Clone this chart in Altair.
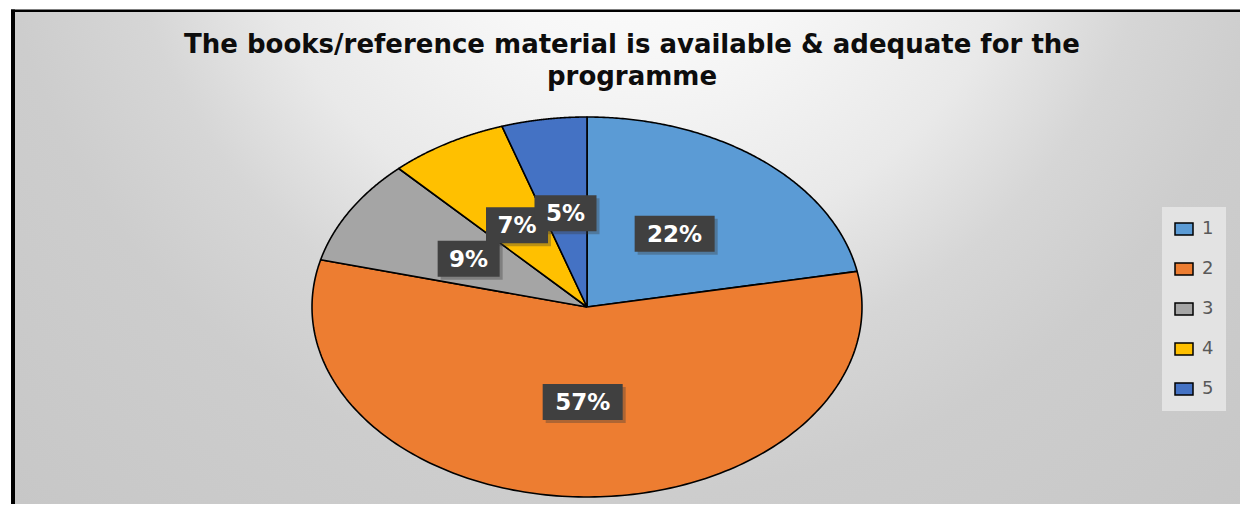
import altair as alt
import pandas as pd

# ---- data ----
categories = ["1", "2", "3", "4", "5"]
shares = [22, 57, 9, 7, 5]
pct_labels = ["22%", "57%", "9%", "7%", "5%"]
colors = ["#5b9bd5", "#ed7d31", "#a5a5a5", "#ffc000", "#4472c4"]
title_lines = ["The books/reference material is available & adequate for the", "programme"]

N = 180  # points along each slice's arc

df = pd.DataFrame({"cat": categories, "share": shares, "label": pct_labels,
                   "idx": list(range(len(categories)))})
one = pd.DataFrame({"k": [0]})

W, H = 1232, 496
CX, CY, RX, RY = 579, 299, 275, 190
FONT = "DejaVu Sans"

xscale = alt.Scale(domain=[-1, 1], range=[CX - RX, CX + RX], nice=False, zero=False)
yscale = alt.Scale(domain=[-1, 1], range=[CY + RY, CY - RY], nice=False, zero=False)

# ---- background and frame ----
grad = alt.Gradient(
    gradient="radial",
    x1=0.51, y1=0.0, r1=0.0,
    x2=0.51, y2=0.0, r2=0.85,
    stops=[
        alt.GradientStop(color="#ffffff", offset=0.0),
        alt.GradientStop(color="#f7f7f7", offset=0.2),
        alt.GradientStop(color="#e9e9e9", offset=0.38),
        alt.GradientStop(color="#d6d6d6", offset=0.5),
        alt.GradientStop(color="#cdcdcd", offset=0.62),
        alt.GradientStop(color="#c4c4c4", offset=1.0),
    ],
)
bg = alt.Chart(one).mark_rect(fill=grad, strokeWidth=0).encode(
    x=alt.value(7), x2=alt.value(W), y=alt.value(4), y2=alt.value(900)
)
top_border = alt.Chart(one).mark_rule(color="black", strokeWidth=2.5).encode(
    x=alt.value(3), x2=alt.value(W), y=alt.value(2.75)
)
left_border = alt.Chart(one).mark_rule(color="black", strokeWidth=4).encode(
    x=alt.value(5), y=alt.value(1.5), y2=alt.value(H)
)

title1 = alt.Chart(pd.DataFrame({"t": [title_lines[0]]})).mark_text(
    font=FONT, fontSize=26, fontWeight="bold", color="#0d0d0d", align="center", baseline="alphabetic"
).encode(text="t:N", x=alt.value(624), y=alt.value(45))
title2 = alt.Chart(pd.DataFrame({"t": [title_lines[1]]})).mark_text(
    font=FONT, fontSize=26, fontWeight="bold", color="#0d0d0d", align="center", baseline="alphabetic"
).encode(text="t:N", x=alt.value(624), y=alt.value(77))

# ---- pie (elliptical, drawn as closed filled paths through x/y scales) ----
base = alt.Chart(df).transform_joinaggregate(
    total="sum(share)"
).transform_window(
    cum="sum(share)", sort=[alt.SortField("idx")], frame=[None, 0]
).transform_calculate(
    a1="2*PI*datum.cum/datum.total",
    a0="2*PI*(datum.cum-datum.share)/datum.total",
)

pie = base.transform_calculate(
    step=f"sequence(0, {N + 3})"
).transform_flatten(["step"]).transform_calculate(
    ang=f"datum.a0 + (datum.a1-datum.a0)*clamp(datum.step-1,0,{N})/{N}",
).transform_calculate(
    px=f"(datum.step==0 || datum.step=={N + 2}) ? 0 : sin(datum.ang)",
    py=f"(datum.step==0 || datum.step=={N + 2}) ? 0 : cos(datum.ang)",
).mark_line(stroke="black", strokeWidth=1.6, strokeJoin="round", interpolate="linear").encode(
    x=alt.X("px:Q", scale=xscale, axis=None),
    y=alt.Y("py:Q", scale=yscale, axis=None),
    fill=alt.Fill(
        "cat:N",
        scale=alt.Scale(domain=categories, range=colors),
        legend=alt.Legend(
            title=None, orient="none", legendX=1154, legendY=199,
            fillColor="#e3e3e3", padding=12,
            symbolType="M-1,-0.67H1V0.67H-1Z", symbolSize=324,
            symbolStrokeColor="black", symbolStrokeWidth=1.5, symbolOpacity=1,
            labelFont=FONT, labelFontSize=18, labelColor="#595959",
            labelOffset=8, rowPadding=20,
        ),
    ),
    detail="cat:N",
    order="step:Q",
)

# ---- data labels ----
lab = base.transform_calculate(
    mid="(datum.a0+datum.a1)/2",
).transform_calculate(
    lx="0.5*sin(datum.mid)",
    ly="0.5*cos(datum.mid)",
    nch="length(datum.label)",
)

def box(nchar, w, h, color, dx=0.0, dy=0.0, opacity=1.0):
    hy = h / w
    ox = 2 * dx / w
    oy = 2 * dy / w
    path = f"M{-1 + ox},{-hy + oy}H{1 + ox}V{hy + oy}H{-1 + ox}Z"
    return lab.transform_filter(f"datum.nch == {nchar}").mark_point(
        shape=path, size=w * w, filled=True, fill=color, strokeWidth=0, opacity=opacity
    ).encode(
        x=alt.X("lx:Q", scale=xscale, axis=None),
        y=alt.Y("ly:Q", scale=yscale, axis=None),
    )

shadows = box(3, 80, 36, "#3a3a3a", 3, 3, 0.35) + box(2, 62, 36, "#3a3a3a", 3, 3, 0.35)
boxes = box(3, 80, 36, "#404040") + box(2, 62, 36, "#404040")

texts = lab.mark_text(
    font=FONT, fontSize=23, fontWeight="bold", color="white", align="center", baseline="middle", dy=1
).encode(
    x=alt.X("lx:Q", scale=xscale, axis=None),
    y=alt.Y("ly:Q", scale=yscale, axis=None),
    text="label:N",
)

chart = alt.layer(
    bg, top_border, left_border, title1, title2, pie, shadows, boxes, texts
).properties(
    width=W, height=H, padding=0, autosize=alt.AutoSizeParams(type="none"), background="white"
).configure_view(strokeWidth=0)

chart.save("out.html", embed_options={"renderer": "svg", "actions": False})
